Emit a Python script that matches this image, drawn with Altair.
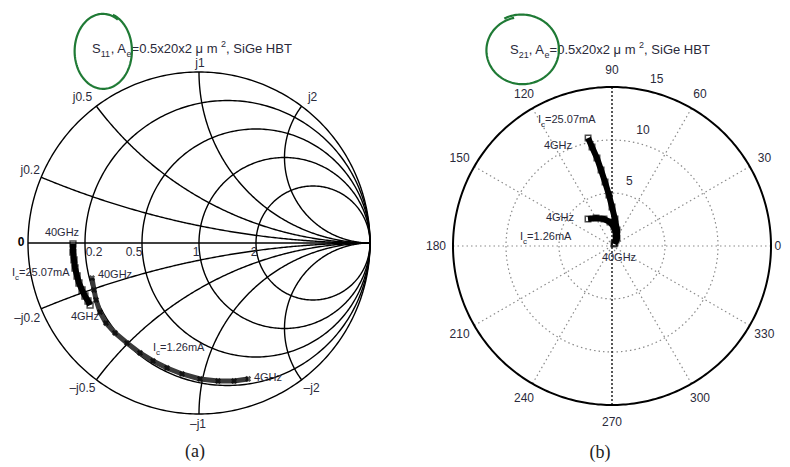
import altair as alt
import numpy as np
import pandas as pd

# ---------------- values ----------------
# (a) S11 on the Smith chart: reflection coefficient (real, imag), 40 GHz -> 4 GHz
s11_hi_re = [-0.737, -0.737, -0.731, -0.725, -0.713, -0.702, -0.684, -0.667, -0.649, -0.637]
s11_hi_im = [-0.006, -0.053, -0.099, -0.146, -0.193, -0.234, -0.275, -0.310, -0.339, -0.363]
s11_lo_re = [-0.626, -0.614, -0.602, -0.579, -0.544, -0.491, -0.421, -0.345, -0.269, -0.187,
             -0.099, 0.006, 0.111, 0.205, 0.287]
s11_lo_im = [-0.205, -0.275, -0.333, -0.404, -0.468, -0.526, -0.585, -0.643, -0.690, -0.731,
             -0.766, -0.795, -0.807, -0.807, -0.795]

# (b) S21 on the polar chart: magnitude and angle in degrees, 4 GHz -> 40 GHz
s21_hi_mag = [10.43, 9.53, 8.42, 7.24, 6.07, 4.82, 3.68, 2.56, 1.58, 0.89, 0.40]
s21_hi_ang = [102.5, 101.4, 99.7, 98.2, 96.2, 93.4, 90.0, 83.7, 72.6, 58.0, 45.0]
s21_lo_mag = [3.41, 3.04, 2.66, 2.27, 1.80, 1.28, 0.68, 0.27]
s21_lo_ang = [131.6, 119.7, 106.5, 94.8, 84.0, 73.0, 56.0, 45.0]

# grid values and tick labels
smith_resistances = [0.2, 0.5, 1, 2]
smith_r_labels = ["0.2", "0.5", "1", "2"]
smith_reactances = [0.2, 0.5, 1, 2]
smith_x_pos_labels = ["j0.2", "j0.5", "j1", "j2"]
smith_x_neg_labels = ["\u2013j0.2", "\u2013j0.5", "\u2013j1", "\u2013j2"]
polar_rings = [5, 10, 15]
polar_ring_labels = ["5", "10", "15"]
polar_angles = [0, 30, 60, 90, 120, 150, 180, 210, 240, 270, 300, 330]
polar_angle_labels = [str(a) for a in polar_angles]

# title pieces: (text, font size, vertical shift in px)
title_a = [("S", 13, 0), ("11", 9, 5), (", A", 13, 0), ("e", 9, 5),
           ("=0.5x20x2 \u03bc m ", 13, 0), ("2", 9, -5), (", SiGe HBT", 13, 0)]
title_b = [("S", 13, 0), ("21", 9, 5), (", A", 13, 0), ("e", 9, 5),
           ("=0.5x20x2 \u03bc m ", 13, 0), ("2", 9, -5), (", SiGe HBT", 13, 0)]

# ---------------- layout (page pixels) ----------------
H = 451
W1, W2 = 398, 376
X0A, X0B, Y0 = 8, 8 + W1, 8
A_CX, A_CY, A_K = 199, 243, 171.0          # Smith chart centre / radius
B_CX, B_CY, B_K = 612, 246, 159.0 / 15.0   # polar centre / px per unit

FONT = "Liberation Sans"
TXT = "#2a2a3a"
GREEN = "#1f7a35"

# Arial / Liberation Sans advance widths (per 1000 em)
AW = {" ": 278, ",": 278, ".": 278, "=": 584, "x": 500, "m": 833, "S": 667, "A": 667, "i": 222,
      "G": 778, "e": 556, "H": 722, "B": 667, "T": 611, "\u03bc": 577, "I": 278, "c": 500}


def text_w(s, size):
    return sum(AW.get(ch, 556) for ch in s) * size / 1000.0


def pa(px, py):
    return (px - A_CX) / A_K, (A_CY - py) / A_K


def pb(px, py):
    return (px - B_CX) / B_K, (B_CY - py) / B_K


xa_dom = [(X0A - A_CX) / A_K, (X0A + W1 - A_CX) / A_K]
ya_dom = [(A_CY - (Y0 + H)) / A_K, (A_CY - Y0) / A_K]
xb_dom = [(X0B - B_CX) / B_K, (X0B + W2 - B_CX) / B_K]
yb_dom = [(B_CY - (Y0 + H)) / B_K, (B_CY - Y0) / B_K]


def enc(dom_x, dom_y, **kw):
    return dict(
        x=alt.X("x:Q", scale=alt.Scale(domain=dom_x, nice=False, zero=False), axis=None),
        y=alt.Y("y:Q", scale=alt.Scale(domain=dom_y, nice=False, zero=False), axis=None),
        **kw,
    )


def oval(conv, cx, cy, rx, ry, a0, sweep, grow):
    t = np.radians(np.linspace(a0, a0 + sweep, 160))
    f = np.linspace(1 + grow, 1.0, 160)
    px = cx + rx * f * np.cos(t)
    py = cy + ry * f * np.sin(t)
    xy = [conv(a, b) for a, b in zip(px, py)]
    return pd.DataFrame({"x": [p[0] for p in xy], "y": [p[1] for p in xy], "i": range(160)})


def centered(conv, items):
    out = []
    for px, py, s in items:
        x, y = conv(px, py)
        out.append((x, y, s))
    return pd.DataFrame(out, columns=["x", "y", "text"])


def pieces(conv, x0, y0, parts):
    out = []
    x = x0
    for s, size, dy in parts:
        px, py = conv(x, y0 + dy)
        out.append((px, py, s, size))
        x += text_w(s, size)
    return out


def piece_layer(rows, dx, dy):
    df = pd.DataFrame(rows, columns=["x", "y", "text", "size"])
    return alt.Chart(df).mark_text(font=FONT, color=TXT, align="left").encode(
        **enc(dx, dy, text="text:N", size=alt.Size("size:Q", scale=None, legend=None)))


# ================= (a) Smith chart =================
rows = []
g = 0
t = np.linspace(0, 2 * np.pi, 361)
for k, tt in enumerate(t):
    rows.append((g, k, np.cos(tt), np.sin(tt)))
g += 1
for r in smith_resistances:
    c, R = r / (1 + r), 1 / (1 + r)
    for k, tt in enumerate(t):
        rows.append((g, k, c + R * np.cos(tt), R * np.sin(tt)))
    g += 1
for xv in smith_reactances:
    R = 1 / xv
    gx, gy = (xv ** 2 - 1) / (1 + xv ** 2), 2 * xv / (1 + xv ** 2)
    pe = np.arctan2(gy - R, gx - 1) % (2 * np.pi)
    phi = np.linspace(pe, 1.5 * np.pi, 200)
    for sgn in (1, -1):
        for k, p in enumerate(phi):
            rows.append((g, k, 1 + R * np.cos(p), sgn * (R + R * np.sin(p))))
        g += 1
rows.append((g, 0, -1.0, 0.0))
rows.append((g, 1, 1.0, 0.0))
smith_grid = pd.DataFrame(rows, columns=["g", "i", "x", "y"])

grid_a = alt.Chart(smith_grid).mark_line(color="black", strokeWidth=1.4).encode(
    **enc(xa_dom, ya_dom, detail="g:N", order="i:Q"))

hi_a = pd.DataFrame({"x": s11_hi_re, "y": s11_hi_im, "i": range(len(s11_hi_re))})
lo_a = pd.DataFrame({"x": s11_lo_re, "y": s11_lo_im, "i": range(len(s11_lo_re))})
hi_a_line = alt.Chart(hi_a).mark_line(color="black", strokeWidth=6).encode(**enc(xa_dom, ya_dom, order="i:Q"))
hi_a_pts = alt.Chart(hi_a).mark_point(shape="square", size=34, filled=False, color="black",
                                      strokeWidth=1.5).encode(**enc(xa_dom, ya_dom))
lo_a_line = alt.Chart(lo_a).mark_line(color="#3a3a3a", strokeWidth=5).encode(**enc(xa_dom, ya_dom, order="i:Q"))
lo_a_pts = alt.Chart(lo_a).mark_point(shape="cross", angle=45, size=40, filled=True, color="#000",
                                      strokeWidth=0.6).encode(**enc(xa_dom, ya_dom))

# tick labels
lab = []
r_off = [9, -8, -3, -2]
for r, s, o in zip(smith_resistances, smith_r_labels, r_off):
    gx = (r - 1) / (r + 1)
    lab.append((gx + o / A_K, -9 / A_K, s))
pos_off = [(-11, -7), (-14, -9), (1, -9), (11, -9)]
neg_off = [(-14, 9), (-14, 8), (-1, 10), (10, 8)]
for xv, s, o in zip(smith_reactances, smith_x_pos_labels, pos_off):
    gx, gy = (xv ** 2 - 1) / (1 + xv ** 2), 2 * xv / (1 + xv ** 2)
    lab.append((gx + o[0] / A_K, gy - o[1] / A_K, s))
for xv, s, o in zip(smith_reactances, smith_x_neg_labels, neg_off):
    gx, gy = (xv ** 2 - 1) / (1 + xv ** 2), -2 * xv / (1 + xv ** 2)
    lab.append((gx + o[0] / A_K, gy - o[1] / A_K, s))
lab_a = pd.DataFrame(lab, columns=["x", "y", "text"])
ticks_a = alt.Chart(lab_a).mark_text(font=FONT, fontSize=12, color=TXT).encode(
    **enc(xa_dom, ya_dom, text="text:N"))
zx, zy = pa(21, 242)
zero_a = alt.Chart(pd.DataFrame({"x": [zx], "y": [zy], "text": ["0"]})).mark_text(
    font=FONT, fontSize=12, fontWeight="bold", color="black").encode(**enc(xa_dom, ya_dom, text="text:N"))

ann_a = centered(pa, [(62, 233, "40GHz"), (115, 275, "40GHz"), (85, 317, "4GHz"), (268, 378, "4GHz")])
ann_a_ch = alt.Chart(ann_a).mark_text(font=FONT, fontSize=11, color=TXT).encode(
    **enc(xa_dom, ya_dom, text="text:N"))


def ic_parts(val):
    return [("I", 11, 0), ("c", 8, 5), (val, 11, 0)]


pieces_a = (pieces(pa, 12, 273, ic_parts("=25.07mA")) + pieces(pa, 153, 348, ic_parts("=1.26mA"))
            + pieces(pa, 92, 49, title_a))
txt_a = piece_layer(pieces_a, xa_dom, ya_dom)

cap_a = alt.Chart(centered(pa, [(195, 452, "(a)")])).mark_text(
    font="Liberation Serif", fontSize=18, color="#222").encode(**enc(xa_dom, ya_dom, text="text:N"))
green_a = alt.Chart(oval(pa, 103, 51, 28, 37, -70, 372, 0.04)).mark_line(color=GREEN, strokeWidth=2.2).encode(
    **enc(xa_dom, ya_dom, order="i:Q"))

panel_a = alt.layer(grid_a, lo_a_line, lo_a_pts, hi_a_line, hi_a_pts, ticks_a, zero_a, ann_a_ch,
                    txt_a, cap_a, green_a).properties(width=W1, height=H)

# ================= (b) polar chart =================
t = np.linspace(0, 2 * np.pi, 361)
outer = pd.DataFrame({"x": 15 * np.cos(t), "y": 15 * np.sin(t), "i": range(361)})
rings = pd.DataFrame([(rr, k, rr * np.cos(tt), rr * np.sin(tt)) for rr in polar_rings[:-1]
                      for k, tt in enumerate(t)], columns=["g", "i", "x", "y"])
spk = []
for a in polar_angles:
    if a in (90, 270):
        continue
    spk.append((a, 0, 0.0, 0.0))
    spk.append((a, 1, 15 * np.cos(np.radians(a)), 15 * np.sin(np.radians(a))))
spokes = pd.DataFrame(spk, columns=["g", "i", "x", "y"])
vert = pd.DataFrame({"x": [0.0, 0.0], "y": [-15.0, 15.0], "i": [0, 1]})

outer_b = alt.Chart(outer).mark_line(color="black", strokeWidth=2).encode(**enc(xb_dom, yb_dom, order="i:Q"))
rings_b = alt.Chart(rings).mark_line(color="#8a8a8a", strokeWidth=1.2, strokeDash=[1.5, 3]).encode(
    **enc(xb_dom, yb_dom, detail="g:N", order="i:Q"))
spokes_b = alt.Chart(spokes).mark_line(color="#8a8a8a", strokeWidth=1.2, strokeDash=[1.5, 3]).encode(
    **enc(xb_dom, yb_dom, detail="g:N", order="i:Q"))
vert_b = alt.Chart(vert).mark_line(color="#111", strokeWidth=1.4, strokeDash=[2, 2]).encode(
    **enc(xb_dom, yb_dom, order="i:Q"))

ang_lab = pd.DataFrame({"a": polar_angles, "text": polar_angle_labels})
ang_b = alt.Chart(ang_lab).transform_calculate(
    rr="datum.a == 0 ? 15.65 : 16.6"
).transform_calculate(
    x="datum.rr*cos(datum.a*PI/180)", y="datum.rr*sin(datum.a*PI/180)"
).mark_text(font=FONT, fontSize=12, color=TXT).encode(**enc(xb_dom, yb_dom, text="text:N"))
ring_lab = pd.DataFrame({"r": polar_rings, "text": polar_ring_labels})
ringl_b = alt.Chart(ring_lab).transform_calculate(
    x="(datum.r+1.3)*cos(75*PI/180)", y="(datum.r+1.3)*sin(75*PI/180)"
).mark_text(font=FONT, fontSize=12, color=TXT).encode(**enc(xb_dom, yb_dom, text="text:N"))

hi_b = pd.DataFrame({"mag": s21_hi_mag, "ang": s21_hi_ang, "i": range(len(s21_hi_mag))})
lo_b = pd.DataFrame({"mag": s21_lo_mag, "ang": s21_lo_ang, "i": range(len(s21_lo_mag))})


def polar_xy(ch):
    return ch.transform_calculate(x="datum.mag*cos(datum.ang*PI/180)", y="datum.mag*sin(datum.ang*PI/180)")


hi_b_line = polar_xy(alt.Chart(hi_b)).mark_line(color="black", strokeWidth=6).encode(**enc(xb_dom, yb_dom, order="i:Q"))
hi_b_pts = polar_xy(alt.Chart(hi_b)).mark_point(shape="square", size=30, filled=False, color="black",
                                                strokeWidth=1.5).encode(**enc(xb_dom, yb_dom))
lo_b_line = polar_xy(alt.Chart(lo_b)).mark_line(color="black", strokeWidth=6).encode(**enc(xb_dom, yb_dom, order="i:Q"))
lo_b_pts = polar_xy(alt.Chart(lo_b)).mark_point(shape="square", size=30, filled=False, color="black",
                                                strokeWidth=1.5).encode(**enc(xb_dom, yb_dom))

ann_b = centered(pb, [(558, 146, "4GHz"), (560, 218, "4GHz"), (619, 258, "40GHz")])
ann_b_ch = alt.Chart(ann_b).mark_text(font=FONT, fontSize=11, color=TXT).encode(**enc(xb_dom, yb_dom, text="text:N"))
pieces_b = (pieces(pb, 538, 120, ic_parts("=25.07mA")) + pieces(pb, 520, 237, ic_parts("=1.26mA"))
            + pieces(pb, 510, 50, title_b))
txt_b = piece_layer(pieces_b, xb_dom, yb_dom)
cap_b = alt.Chart(centered(pb, [(600, 453, "(b)")])).mark_text(
    font="Liberation Serif", fontSize=18, color="#222").encode(**enc(xb_dom, yb_dom, text="text:N"))
green_b = alt.Chart(oval(pb, 522, 50, 35, 33, -118, 375, 0.08)).mark_line(color=GREEN, strokeWidth=2.2).encode(
    **enc(xb_dom, yb_dom, order="i:Q"))

panel_b = alt.layer(rings_b, spokes_b, vert_b, outer_b, ang_b, ringl_b, lo_b_line, lo_b_pts, hi_b_line, hi_b_pts,
                    ann_b_ch, txt_b, cap_b, green_b).properties(width=W2, height=H)

chart = alt.hconcat(panel_a, panel_b, spacing=0, bounds="flush").properties(
    padding=0, background="white"
).configure_view(stroke=None)

chart.save("out.html", embed_options={"renderer": "svg", "actions": False})
